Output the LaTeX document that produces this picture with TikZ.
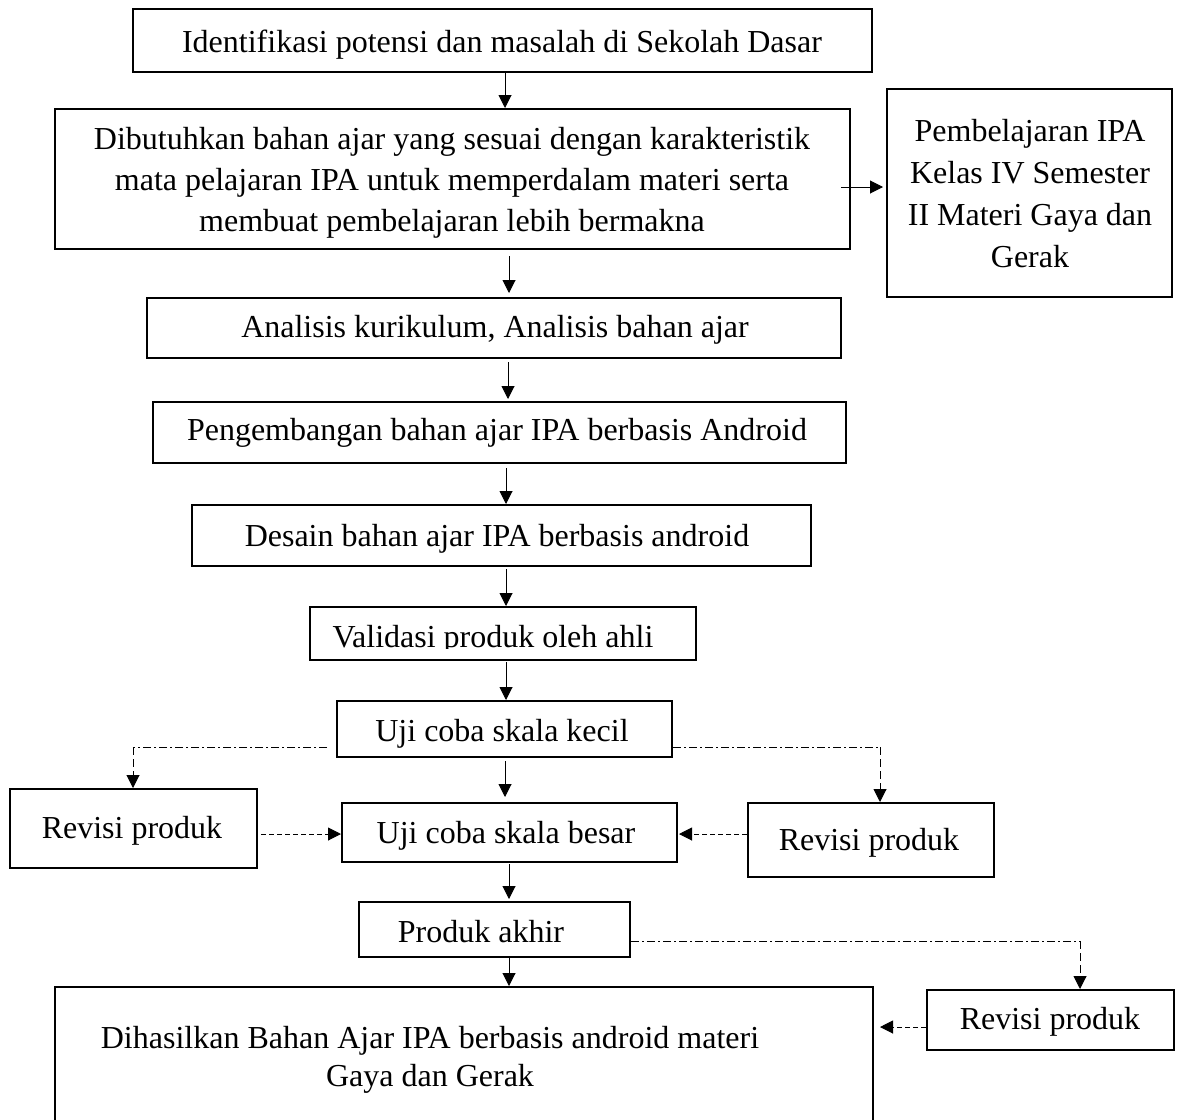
\documentclass[tikz,border=0pt]{standalone}
\usepackage{fontspec}
\setmainfont{Liberation Serif}
\usetikzlibrary{arrows.meta,fit,calc}
\begin{document}
\begin{tikzpicture}[x=0.5pt,y=-0.5pt,
  box/.style={draw, line width=1pt, inner sep=0pt},
  txt/.style={inner sep=0pt, align=center, yshift=-1.5pt, font=\fontsize{16}{20.5}\selectfont},
  arr/.style={line width=0.5pt, -{Triangle[length=6.5pt,width=6.5pt]}},
  dashdot/.style={line width=0.5pt, dash pattern=on 4pt off 1.5pt on 1pt off 1.5pt},
  dsh/.style={line width=0.5pt, dash pattern=on 4pt off 2pt},
  sdash/.style={line width=0.5pt, dash pattern=on 2.5pt off 1.5pt}]
\useasboundingbox (0,0) rectangle (1177,1119);

% boxes
\node[box, fit={(133,9) (872,72)}] (b1) {};
\node[box, fit={(55,109) (850,249)}] (b2) {};
\node[box, fit={(887,89) (1172,297)}] (bR) {};
\node[box, fit={(147,298) (841,358)}] (b3) {};
\node[box, fit={(153,402) (846,463)}] (b4) {};
\node[box, fit={(192,505) (811,566)}] (b5) {};
\node[box, fit={(310,607) (696,660)}] (b6) {};
\node[box, fit={(337,701) (672,757)}] (b7) {};
\node[box, fit={(10,789) (257,868)}] (rL) {};
\node[box, fit={(342,803) (677,862)}] (b8) {};
\node[box, fit={(748,803) (994,877)}] (rR) {};
\node[box, fit={(359,902) (630,957)}] (b9) {};
\node[box, fit={(927,990) (1174,1050)}] (rB) {};
\begin{scope}
  \clip (0,0) rectangle (1177,1119);
  \node[box, fit={(55,987) (873,1150)}] (b10) {};
\end{scope}

% texts
\node[txt] (t1) at (502,42) {Identifikasi potensi dan masalah di Sekolah Dasar};
\begin{scope}
  \clip (0,0) rectangle (1177,238);
  \node[txt] (t2) at (452,180) {Dibutuhkan bahan ajar yang sesuai dengan karakteristik\\mata pelajaran IPA untuk memperdalam materi serta\\membuat pembelajaran lebih bermakna};
\end{scope}
\node[txt, font=\fontsize{16}{21}\selectfont] (tR) at (1030,191) {Pembelajaran IPA\\Kelas IV Semester\\II Materi Gaya dan\\Gerak};
\node[txt] (t3) at (495,327) {Analisis kurikulum, Analisis bahan ajar};
\node[txt] (t4) at (497,430) {Pengembangan bahan ajar IPA berbasis Android};
\node[txt] (t5) at (497,536) {Desain bahan ajar IPA berbasis android};
\begin{scope}
  \clip (0,0) rectangle (1177,648);
  \node[txt] (t6) at (493,637) {Validasi produk oleh ahli};
\end{scope}
\node[txt] (t7) at (502,731) {Uji coba skala kecil};
\node[txt] (tL) at (132,828) {Revisi produk};
\node[txt] (t8) at (506,833) {Uji coba skala besar};
\node[txt] (tRR) at (869,840) {Revisi produk};
\node[txt] (t9) at (481,929) {Produk akhir};
\node[txt] (tB) at (1050,1019) {Revisi produk};
\node[txt, font=\fontsize{16}{19}\selectfont] (t10) at (430,1057) {Dihasilkan Bahan Ajar IPA berbasis android materi\\Gaya dan Gerak};

% coordinates for connector lines
\coordinate (x505) at (505,0);
\coordinate (x509) at (509,0);
\coordinate (x508) at (508,0);
\coordinate (x506) at (506,0);
\coordinate (yR) at (0,187);
\coordinate (kL) at (133,747);
\coordinate (kR) at (880,747);
\coordinate (yb8) at (0,834);
\coordinate (kP) at (1080,941);
\coordinate (yF) at (0,1027);

% main vertical flow
\draw[arr] (b1.south -| x505) -- (b2.north -| x505);
\draw[arr, shorten <=3pt, shorten >=2pt] (b2.south -| x509) -- (b3.north -| x509);
\draw[arr, shorten <=1.5pt, shorten >=1pt] (b3.south -| x508) -- (b4.north -| x508);
\draw[arr, shorten <=2pt] (b4.south -| x506) -- (b5.north -| x506);
\draw[arr, shorten <=1pt] (b5.south -| x506) -- (b6.north -| x506);
\draw[arr, shorten <=0.5pt] (b6.south -| x506) -- (b7.north -| x506);
\draw[arr, shorten <=1.5pt, shorten >=2.5pt] (b7.south -| x505) -- (b8.north -| x505);
\draw[arr, shorten <=0.5pt, shorten >=1pt] (b8.south -| x509) -- (b9.north -| x509);
\draw[arr] (b9.south -| x509) -- (b10.north -| x509);

% side arrow
\draw[arr] ($(b2.east |- yR)+(-10,0)$) -- ($(bR.west |- yR)+(-3,0)$);

% revision loops
\draw[dashdot] ($(b7.west |- kL)+(-9,0)$) -- (kL);
\draw[dsh, arr] (kL) -- (rL.north -| kL);
\draw[dashdot] (b7.east |- kR) -- (kR);
\draw[dsh, arr] (kR) -- (rR.north -| kR);
\draw[sdash, arr] ($(rL.east |- yb8)+(3,0)$) -- (b8.west |- yb8);
\draw[sdash, arr] (rR.west |- yb8) -- ($(b8.east |- yb8)+(1,0)$);
\draw[dashdot] (b9.east |- kP) -- (kP);
\draw[dsh, arr] (kP) -- (rB.north -| kP);
\draw[sdash, arr] (rB.west |- yF) -- ($(b10.east |- yF)+(6,0)$);
\end{tikzpicture}
\end{document}
